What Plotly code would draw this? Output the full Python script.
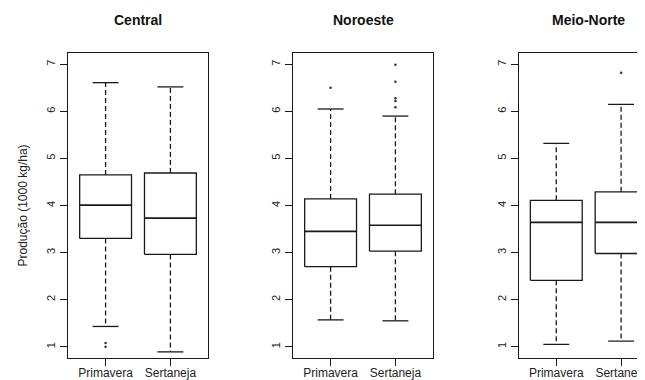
import plotly.graph_objects as go

# ---- data ----
regions = ["Central", "Noroeste", "Meio-Norte"]
cultivars = ["Primavera", "Sertaneja"]
y_title = "Produção (1000 kg/ha)"

# per region: [Primavera, Sertaneja]
whisker_low = [[1.43, 0.89], [1.57, 1.55], [1.05, 1.12]]
q1 = [[3.30, 2.96], [2.70, 3.03], [2.41, 2.98]]
median = [[4.01, 3.73], [3.45, 3.58], [3.64, 3.64]]
q3 = [[4.65, 4.69], [4.14, 4.24], [4.11, 4.29]]
whisker_high = [[6.61, 6.52], [6.05, 5.90], [5.32, 6.15]]
outliers = [
    [[1.00, 1.08], []],
    [[6.50], [6.09, 6.22, 6.28, 6.63, 6.99]],
    [[], [6.82]],
]
y_ticks = [1, 2, 3, 4, 5, 6, 7]

# ---- layout geometry ----
W, H = 645, 380
frame_left = [60, 285, 510.7]
frame_w = 140
xr_full = (0.42, 2.58)
px_per_unit = frame_w / (xr_full[1] - xr_full[0])
top_px, bot_px = 45, 350

LINE = "#1a1a1a"
FONT = "Liberation Sans, Arial, sans-serif"

fig = go.Figure()
half_box = 0.4
half_cap = 0.2

for r in range(3):
    xa = "x" if r == 0 else f"x{r+1}"
    ya = "y" if r == 0 else f"y{r+1}"
    for c in range(2):
        pos = c + 1
        # box
        fig.add_trace(go.Scatter(
            x=[pos - half_box, pos + half_box, pos + half_box, pos - half_box, pos - half_box],
            y=[q1[r][c], q1[r][c], q3[r][c], q3[r][c], q1[r][c]],
            mode="lines", line=dict(color=LINE, width=1.3), xaxis=xa, yaxis=ya,
            showlegend=False, hoverinfo="skip"))
        # median
        fig.add_trace(go.Scatter(
            x=[pos - half_box, pos + half_box], y=[median[r][c], median[r][c]],
            mode="lines", line=dict(color=LINE, width=1.7), xaxis=xa, yaxis=ya,
            showlegend=False, hoverinfo="skip"))
        # whiskers (dashed)
        fig.add_trace(go.Scatter(
            x=[pos, pos, None, pos, pos],
            y=[q3[r][c], whisker_high[r][c], None, q1[r][c], whisker_low[r][c]],
            mode="lines", line=dict(color=LINE, width=1.3, dash="5px,3px"),
            xaxis=xa, yaxis=ya, showlegend=False, hoverinfo="skip"))
        # caps
        fig.add_trace(go.Scatter(
            x=[pos - half_cap, pos + half_cap, None, pos - half_cap, pos + half_cap],
            y=[whisker_high[r][c], whisker_high[r][c], None, whisker_low[r][c], whisker_low[r][c]],
            mode="lines", line=dict(color=LINE, width=1.3),
            xaxis=xa, yaxis=ya, showlegend=False, hoverinfo="skip"))
        # outliers
        if outliers[r][c]:
            fig.add_trace(go.Scatter(
                x=[pos] * len(outliers[r][c]), y=outliers[r][c], mode="markers",
                marker=dict(color="#333", size=2.5), xaxis=xa, yaxis=ya,
                showlegend=False, hoverinfo="skip"))

y0 = 1 - bot_px / H
y1 = 1 - top_px / H
layout = dict(
    width=W, height=H, margin=dict(l=0, r=0, t=0, b=0),
    paper_bgcolor="white", plot_bgcolor="white",
    font=dict(family=FONT, size=12, color="#222"),
)
annotations = []
for r in range(3):
    left = frame_left[r]
    right = min(left + frame_w, W)
    dom = [left / W, right / W]
    xmax = xr_full[0] + (right - left) / px_per_unit
    sx = "xaxis" if r == 0 else f"xaxis{r+1}"
    sy = "yaxis" if r == 0 else f"yaxis{r+1}"
    ya = "y" if r == 0 else f"y{r+1}"
    xa = "x" if r == 0 else f"x{r+1}"
    layout[sx] = dict(
        domain=dom, range=[xr_full[0], xmax], anchor=ya,
        tickmode="array", tickvals=[1, 2], ticktext=cultivars,
        ticks="outside", ticklen=7, tickcolor=LINE, tickwidth=1.2,
        ticklabelstandoff=-4,
        showline=True, linecolor=LINE, linewidth=1.3, mirror=True,
        showgrid=False, zeroline=False, fixedrange=True,
        tickfont=dict(size=12, color="#222"),
    )
    layout[sy] = dict(
        domain=[y0, y1], range=[0.76, 7.24], anchor=xa,
        tickmode="array", tickvals=y_ticks,
        ticks="outside", ticklen=7, tickcolor=LINE, tickwidth=1.2,
        tickangle=-90,
        showline=True, linecolor=LINE, linewidth=1.3, mirror=(r < 2),
        showgrid=False, zeroline=False, fixedrange=True,
        tickfont=dict(size=11, color="#222"),
    )
    annotations.append(dict(
        text=f"<b>{regions[r]}</b>", x=(left + frame_w / 2) / W, y=1 - 12 / H,
        xref="paper", yref="paper", showarrow=False, xanchor="center", yanchor="middle",
        font=dict(size=14, color="#111", family=FONT)))
annotations.append(dict(
    text=y_title, x=14 / W, y=1 - ((top_px + bot_px) / 2) / H, xref="paper", yref="paper",
    showarrow=False, textangle=-90, xanchor="center", yanchor="middle",
    font=dict(size=12, color="#222", family=FONT)))
layout["annotations"] = annotations
fig.update_layout(**layout)

fig.write_html("out.html")
